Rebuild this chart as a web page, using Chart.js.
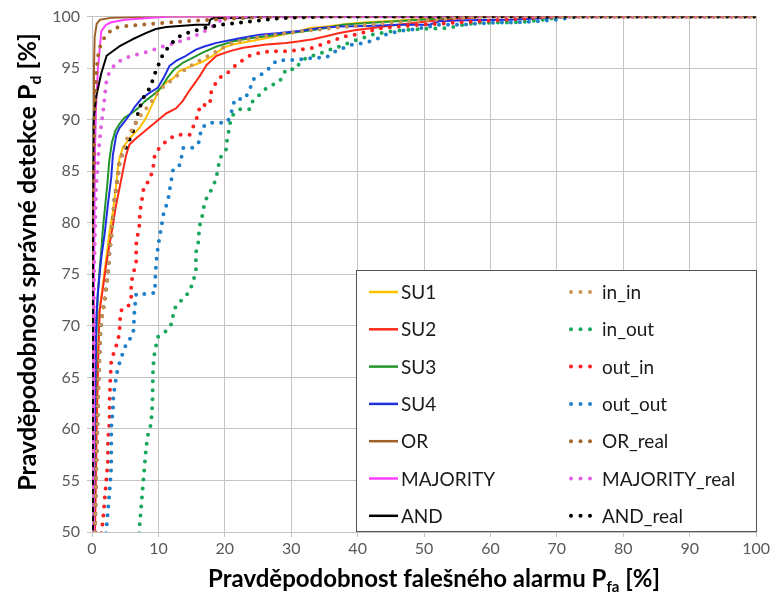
<!DOCTYPE html>
<html>
<head>
<meta charset="utf-8">
<script src="https://cdn.jsdelivr.net/npm/chart.js@4.4.1/dist/chart.umd.min.js"></script>
<style>
  html, body { margin: 0; padding: 0; background: #fff; }
  #wrap { width: 772px; height: 597px; position: relative; }
</style>
</head>
<body>
<div id="wrap"><canvas id="roc"></canvas></div>
<script>
// tick labels
const xTicks = [0, 10, 20, 30, 40, 50, 60, 70, 80, 90, 100];
const yTicks = [50, 55, 60, 65, 70, 75, 80, 85, 90, 95, 100];

const seriesNames = ["SU1", "SU2", "SU3", "SU4", "OR", "MAJORITY", "AND",
  "in_in", "in_out", "out_in", "out_out", "OR_real", "MAJORITY_real", "AND_real"];

// [Pfa %, Pd %]
const su1 = [[0.3,50],[0.5,60],[0.8,66],[1.15,71.5],[1.65,74],[2.15,76.6],[2.65,79.2],[3.15,81.1],[3.65,83.7],[3.9,85.3],[4.15,86.3],[4.65,87.3],[5.8,88.3],[7.15,89.2],[8.15,90.2],[9.15,91.6],[9.9,92.6],[10.4,93.2],[11.4,93.7],[12.4,94.1],[13.1,94.7],[14.2,95.0],[15.6,95.35],[16.6,95.6],[18.2,96.2],[19.8,97.0],[21.2,97.3],[23.8,97.6],[26.2,97.9],[28.8,98.25],[31.2,98.6],[32.8,98.9],[35.2,99.05],[38.8,99.3],[41.2,99.45],[44.2,99.55],[48,99.7],[53,99.85],[58,100],[100,100]];
const su2 = [[0.45,50],[0.7,60],[0.9,66],[1.15,71.5],[1.65,73.7],[2.15,76],[2.65,77.9],[3.15,79.8],[3.65,81.8],[4.15,83.4],[4.65,85],[5.15,86.6],[5.65,87.6],[6.65,88.2],[8.15,89],[9.65,89.8],[11.15,90.6],[12.65,91.1],[13.65,91.8],[14.65,92.8],[16.2,94.2],[17.25,95.3],[18.75,96.2],[20.75,96.65],[22.75,96.97],[26.25,97.3],[29.25,97.45],[31.25,97.6],[33.25,97.8],[35.25,98.1],[37.25,98.4],[39.75,98.7],[42.25,98.9],[46,99.2],[50,99.5],[55,99.8],[60,100],[100,100]];
const su3 = [[0.3,50],[0.45,60],[0.6,68],[0.85,72.7],[1.15,75.5],[1.4,77.3],[1.65,79.5],[1.9,81.1],[2.3,83.7],[2.6,86],[3.0,87.8],[3.5,88.9],[4.15,89.6],[4.9,90.2],[5.9,90.6],[6.9,91.1],[8.0,91.8],[9.2,92.4],[10.4,93.1],[11.4,94.1],[12.4,94.9],[13.65,95.5],[15.15,96],[16.65,96.5],[18.75,97.1],[21.25,97.6],[23.75,97.9],[26.25,98.1],[29.25,98.35],[32.25,98.6],[35.25,98.9],[37.75,99.2],[42,99.4],[47,99.6],[52,99.8],[56,100],[100,100]];
const su4 = [[0.25,50],[0.4,60],[0.65,70.8],[0.9,73.4],[1.4,76.6],[1.9,78.9],[2.4,81.8],[2.9,84.4],[3.15,86.6],[3.65,88.5],[4.15,89.2],[4.9,89.8],[5.8,90.6],[6.5,91.3],[7.4,92],[8.65,92.6],[9.9,93.1],[10.9,94.2],[11.65,95.2],[12.65,95.7],[14.15,96.2],[15.65,96.8],[16.9,97.1],[18.75,97.45],[22.25,97.9],[25.25,98.25],[28.25,98.4],[31.25,98.6],[34.25,98.9],[37.25,99.05],[41.25,99.1],[46.25,99.2],[50.75,99.2],[52.25,99.55],[56.25,99.65],[63,99.7],[68,99.85],[72,100],[100,100]];
const orFus = [[0.15,50],[0.2,80],[0.3,95],[0.4,98],[0.7,99.3],[1.2,99.7],[3,99.9],[10,100],[100,100]];
const majority = [[0.2,50],[0.3,75],[0.45,87],[0.6,91],[0.9,95],[1.4,98.6],[2.1,99.2],[2.9,99.45],[5,99.7],[9,99.9],[12,100],[100,100]];
const andFus = [[0.1,50],[0.15,80],[0.25,90],[0.65,92.3],[1.4,94.5],[2.2,96.2],[4.1,97.1],[6.1,97.8],[8.1,98.4],[9.6,98.8],[11.2,99.0],[15.7,99.2],[17.6,99.2],[17.8,99.7],[18.3,99.85],[23,99.9],[26,100],[100,100]];
const inIn = [[0.45,50],[0.6,55],[0.8,60],[1.0,65],[1.3,70],[1.9,72.5],[2.4,75],[2.65,77.3],[2.9,78.5],[3.15,80.5],[3.4,82.4],[3.9,84.4],[4.15,85.8],[4.65,86.9],[5.4,88.4],[6.15,89.2],[7.1,90.2],[8.4,91.3],[9.9,92.6],[10.9,93.3],[12.15,93.9],[13.1,94.4],[14.1,94.9],[15.15,95.35],[16.4,95.8],[19.25,96.8],[21.2,97.45],[23.25,97.8],[27,98.2],[32,98.6],[38,99],[45,99.4],[52,99.7],[58,100],[100,100]];
const inOut = [[7.0,49],[7.15,50.5],[7.4,52.4],[7.65,54.35],[7.9,56.3],[8.15,58.2],[8.4,59.35],[8.9,60.5],[9.1,62.5],[9.15,64.5],[9.2,66],[9.4,67.25],[9.9,68.9],[11.2,69.5],[12.1,70.3],[12.25,71.3],[12.75,72.1],[13.75,72.6],[14.75,73.4],[15.25,74.4],[15.65,75.2],[15.65,77.1],[16,78.1],[16.1,79],[16.3,80],[16.75,81],[16.9,81.9],[17.5,82.7],[18.25,83.5],[18.75,84.5],[19,85.3],[19.25,86.3],[20.15,86.9],[20.25,87.7],[20.5,88.55],[20.75,89.5],[21,90.3],[21.5,90.65],[22.25,91],[23.75,91],[24.2,91.8],[24.75,92.1],[25.75,92.8],[26.75,93.25],[28.25,93.7],[29.25,94.9],[30.75,94.9],[31.25,95.5],[32.25,96],[33.75,96.3],[35.25,96.65],[37.25,97.1],[39.25,97.6],[40.75,97.9],[42.25,98.25],[44.25,98.5],[47,98.7],[50,98.8],[53.75,98.9],[55.75,99.2],[58.25,99.4],[64.25,99.45],[68,99.7],[71,100],[100,100]];
const outIn = [[1.3,49],[1.4,50],[1.65,51.1],[1.9,53.1],[2.15,55],[2.4,56.9],[2.4,58.9],[2.65,60.8],[2.65,62.7],[2.75,64.7],[2.9,66.6],[3.4,67.6],[3.9,68.55],[4.15,69.5],[4.2,70.5],[4.4,71.5],[5.4,71.8],[5.9,72.7],[5.9,74],[6.15,75],[6.65,76],[6.65,77.9],[6.9,78.9],[7.15,79.8],[7.2,80.8],[7.4,81.8],[7.65,82.7],[7.8,83.5],[8.5,84],[9.0,84.8],[9.3,85.7],[9.45,86.6],[10.3,87.4],[11.2,87.9],[12.3,88.4],[13.3,88.55],[14.7,88.55],[15.25,89.35],[16,90.5],[16.25,91.4],[17.75,91.45],[17.9,92.6],[18.75,93.7],[19.5,94.2],[20.75,94.7],[21.75,95.35],[22.75,95.8],[23.75,96.2],[25.25,96.5],[27.25,96.65],[29.75,96.65],[33.25,96.97],[35.25,97.45],[38.25,98.1],[39.75,98.25],[41.75,98.6],[43.75,98.9],[47,99.1],[52,99.3],[57,99.5],[62,99.7],[67,99.9],[70,100],[100,100]];
const outOut = [[2.1,49],[2.15,50.2],[2.4,52.1],[2.65,54],[2.9,56.3],[2.9,58.2],[2.9,60.2],[3.15,61.8],[3.2,62.9],[3.4,64],[3.65,65],[3.9,66],[4.4,66.8],[4.75,67.7],[5.5,68.55],[6.2,69.2],[6.3,70.2],[6.35,71.1],[6.5,72.1],[6.65,73.1],[8,73.1],[9.5,73.2],[9.5,74],[9.55,75],[9.65,76],[9.8,77],[10,77.9],[10.25,78.9],[10.5,79.8],[10.75,80.8],[11.25,81.8],[11.5,82.4],[11.75,83.4],[12,84.35],[12.25,85.3],[13.25,85.6],[13.5,86.45],[13.75,87.25],[15,87.25],[16,87.6],[16.25,88.4],[16.5,89.2],[17.5,89.7],[19,89.7],[20.25,89.7],[20.75,90.2],[21.15,91.1],[21.5,92],[23,92],[23.75,92.9],[24.25,93.9],[26.25,94.7],[27.75,95.7],[29.25,95.8],[30.75,95.8],[33.5,96],[35.25,96],[36.25,96.5],[37.25,96.8],[39.25,97.3],[40.75,97.4],[42.5,97.7],[44.25,98.25],[46.25,98.6],[48.25,98.75],[49.75,98.9],[52.25,99.2],[55.75,99.2],[59.75,99.4],[64.25,99.45],[67.25,99.55],[70,99.7],[73.25,100],[100,100]];
const orReal = [[0.15,50],[0.2,80],[0.35,90],[0.6,94],[0.85,96],[1.3,97.3],[2.1,98.2],[3.3,98.9],[5.4,99.1],[9,99.3],[13,99.5],[18,99.7],[22,99.85],[28,100],[100,100]];
const majorityReal = [[0.2,50],[0.3,75],[0.6,83],[1.0,87],[1.3,89],[1.65,90.7],[2.15,93.6],[2.6,94.6],[3.6,95.5],[5.1,96],[6.6,96.3],[8.4,96.6],[10.65,97.1],[12.6,97.45],[14.6,97.9],[16.5,98.4],[18,99],[19,99.5],[21,100],[100,100]];
const andReal = [[0.45,50],[0.6,55],[0.8,60],[1.0,65],[1.3,70],[1.9,72.5],[2.4,75],[2.65,77.3],[2.9,78.5],[3.15,80.5],[3.4,82.4],[3.9,84.4],[4.15,85.8],[4.65,86.9],[5.15,87.3],[5.75,88.2],[6.4,89.2],[7,90.8],[7.7,92.1],[8.75,93.1],[9.5,94.5],[10.5,96.1],[11.75,97.3],[13.25,98.1],[14.75,98.5],[17.5,99.0],[20.5,99.3],[23.5,99.5],[28.2,99.85],[35,100],[100,100]];

const seriesData = [su1, su2, su3, su4, orFus, majority, andFus,
  inIn, inOut, outIn, outOut, orReal, majorityReal, andReal];

const colors = ["#FFC000", "#FF2A1A", "#23962B", "#1F2FE0", "#A0602A", "#FF40FF", "#000000",
  "#CC9555", "#19A85A", "#FF2020", "#1E80C8", "#A6652A", "#E060E0", "#000000"];

const FONT = "Lato, 'Open Sans', sans-serif";

const datasets = seriesData.map((pts, i) => {
  const dotted = i >= 7;
  return {
    label: seriesNames[i],
    data: pts.map(p => ({x: p[0], y: p[1]})),
    showLine: true,
    borderColor: colors[i],
    backgroundColor: colors[i],
    borderWidth: dotted ? 4 : 2,
    borderDash: dotted ? [0, 9] : [],
    borderCapStyle: dotted ? "round" : "butt",
    borderJoinStyle: "round",
    pointRadius: 0,
    tension: 0,
    // later series on top, like the original
    order: seriesData.length - i
  };
});
// keep in_in dots above the lower part of AND_real
datasets[7].order = -1;

const legendPlugin = {
  id: "boxLegend",
  afterDraw(chart) {
    const ctx = chart.ctx;
    const bx = 356, by = 270, bw = 400, bh = 261;
    ctx.save();
    ctx.fillStyle = "#fff";
    ctx.fillRect(bx, by, bw, bh);
    ctx.strokeStyle = "#555";
    ctx.lineWidth = 1;
    ctx.strokeRect(bx + 0.5, by + 0.5, bw, bh);
    ctx.font = "19px " + FONT;
    ctx.textBaseline = "middle";
    ctx.fillStyle = "#1a1a1a";
    for (let i = 0; i < seriesNames.length; i++) {
      const col = i < 7 ? 0 : 1;
      const row = i % 7;
      const y = 292 + row * 37.3;
      const ds = chart.data.datasets[i];
      if (col === 0) {
        ctx.strokeStyle = ds.borderColor;
        ctx.lineWidth = 2.5;
        ctx.beginPath();
        ctx.moveTo(369, y);
        ctx.lineTo(398, y);
        ctx.stroke();
        ctx.fillStyle = "#1a1a1a";
        ctx.fillText(ds.label, 401, y + 1);
      } else {
        ctx.fillStyle = ds.borderColor;
        [571, 580.5, 590].forEach(cx => {
          ctx.beginPath();
          ctx.arc(cx, y, 2, 0, Math.PI * 2);
          ctx.fill();
        });
        ctx.fillStyle = "#1a1a1a";
        ctx.fillText(ds.label, 602, y + 1);
      }
    }
    ctx.restore();
  }
};

// axis titles with subscripts
function drawSubTitle(ctx, parts, cx, cy, size) {
  const big = "bold " + size + "px " + FONT, small = "bold " + Math.round(size * 0.63) + "px " + FONT;
  let w = 0;
  parts.forEach(p => { ctx.font = p.sub ? small : big; w += ctx.measureText(p.t).width; });
  let x = cx - w / 2;
  parts.forEach(p => {
    ctx.font = p.sub ? small : big;
    ctx.fillText(p.t, x, p.sub ? cy + 5 : cy);
    x += ctx.measureText(p.t).width;
  });
}

const titlePlugin = {
  id: "axisTitles",
  afterDraw(chart) {
    const ctx = chart.ctx;
    ctx.save();
    ctx.fillStyle = "#000";
    ctx.textBaseline = "alphabetic";
    ctx.textAlign = "left";
    drawSubTitle(ctx, [{t: "Pravděpodobnost falešného alarmu P"}, {t: "fa", sub: true}, {t: " [%]"}], 434, 587, 24);
    ctx.translate(36, 262);
    ctx.rotate(-Math.PI / 2);
    drawSubTitle(ctx, [{t: "Pravděpodobnost správné detekce P"}, {t: "d", sub: true}, {t: " [%]"}], 0, 0, 25);
    ctx.restore();
  }
};

const gridColor = "#C4C4C4";

new Chart(document.getElementById("roc"), {
  type: "scatter",
  data: { datasets: datasets },
  options: {
    responsive: true,
    maintainAspectRatio: false,
    animation: false,
    events: [],
    layout: { padding: { top: 15, right: 14, left: 0, bottom: 0 } },
    plugins: { legend: { display: false }, tooltip: { enabled: false } },
    scales: {
      x: {
        type: "linear", min: xTicks[0], max: xTicks[xTicks.length - 1],
        afterBuildTicks: s => { s.ticks = xTicks.map(v => ({value: v})); },
        afterFit: s => { s.height = 65; },
        grid: { color: gridColor, lineWidth: 1, tickLength: 5 },
        border: { color: gridColor },
        ticks: { color: "#595959", font: { family: FONT, size: 16 }, padding: 2, maxRotation: 0 }
      },
      y: {
        type: "linear", min: yTicks[0], max: yTicks[yTicks.length - 1],
        afterBuildTicks: s => { s.ticks = yTicks.map(v => ({value: v})); },
        afterFit: s => { s.width = 92; },
        grid: { color: gridColor, lineWidth: 1, tickLength: 5 },
        border: { color: gridColor },
        ticks: { color: "#595959", font: { family: FONT, size: 16 }, padding: 7 }
      }
    }
  },
  plugins: [legendPlugin, titlePlugin]
});
</script>
</body>
</html>
